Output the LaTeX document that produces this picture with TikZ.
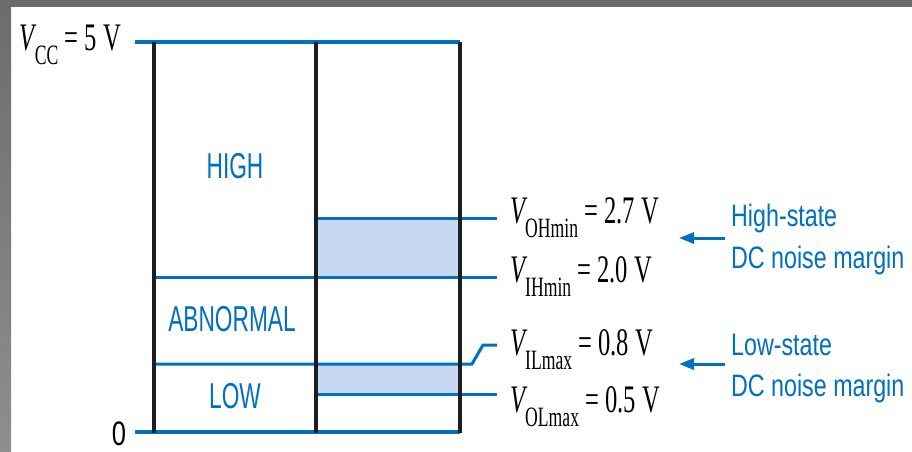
\documentclass[tikz,border=0pt]{standalone}
\usepackage{fontspec}
\setmainfont{Liberation Serif}
\newfontfamily\lsans[FakeStretch=0.63]{Liberation Sans}
\newfontfamily\rsans[FakeStretch=0.75]{Liberation Sans}
\newfontfamily\tser[FakeStretch=0.63]{Liberation Serif}
\usetikzlibrary{arrows.meta}
\definecolor{lblue}{RGB}{0,112,192}
\definecolor{shadeblue}{RGB}{198,217,240}
\definecolor{frametop}{RGB}{108,108,108}
\definecolor{framebot}{RGB}{142,142,142}
\definecolor{vline}{RGB}{30,30,30}
\newcommand{\volt}[2]{{\tser\fontsize{39pt}{42pt}\selectfont\itshape V}\raisebox{-14pt}{\tser\fontsize{28pt}{30pt}\selectfont #1}{\tser\fontsize{39pt}{42pt}\selectfont\ = #2\ V}}
\tikzset{
  level/.style={draw=lblue, line width=3pt},
  mainlevel/.style={draw=lblue, line width=4pt},
  divider/.style={draw=vline, line width=3.2pt},
  lbl/.style={inner sep=0pt, text=black},
  region/.style={inner sep=0pt, text=lblue, font=\lsans\fontsize{36pt}{40pt}\selectfont},
  note/.style={inner sep=0pt, text=lblue, anchor=base west, font=\rsans\fontsize{31pt}{36pt}\selectfont},
  marginarrow/.style={draw=lblue, line width=3pt, -{Triangle[length=15pt,width=11pt]}}
}
\begin{document}
\begin{tikzpicture}[x=1pt, y={(0pt,-1pt)}]
\useasboundingbox (0,0) rectangle (912,451);
\fill[white] (0,0) rectangle (912,451);
% slide frame
\shade[top color=frametop, bottom color=framebot] (0,0) rectangle (11,451);
\fill[frametop] (0,0) rectangle (912,7);

% shaded noise margins
\fill[shadeblue] (316,218) rectangle (460,277);
\fill[shadeblue] (316,364) rectangle (460,394);

% levels
\draw[mainlevel] (135,42) -- (460,42);
\draw[mainlevel] (135,432) -- (460,432);
\draw[level] (316,218) -- (497,218);
\draw[level] (154,277) -- (497,277);
\draw[level] (154,364) -- (472,364) -- (483,345) -- (497,345);
\draw[level] (316,394) -- (497,394);

% dividers
\draw[divider] (154,42) -- (154,433);
\draw[divider] (316,42) -- (316,433);
\draw[divider] (460,42) -- (460,433);

% labels
\node[lbl, anchor=base east] (vcc) at (121,50) {\volt{CC}{5}};
\node[lbl, anchor=base, font=\rsans\fontsize{34pt}{38pt}\selectfont] (zero) at (119,445) {0};
\node[lbl, anchor=base west] (voh) at (510,223) {\volt{OHmin}{2.7}};
\node[lbl, anchor=base west] (vih) at (510,282) {\volt{IHmin}{2.0}};
\node[lbl, anchor=base west] (vil) at (510,355) {\volt{ILmax}{0.8}};
\node[lbl, anchor=base west] (vol) at (510,412) {\volt{OLmax}{0.5}};

\node[region, anchor=base] (high) at (235,178) {HIGH};
\node[region, anchor=base] (abn) at (232,331) {ABNORMAL};
\node[region, anchor=base] (low) at (235,408) {LOW};

\node[note] (hs1) at (731,226) {High-state};
\node[note] (hs2) at (731,268) {DC noise margin};
\node[note] (ls1) at (731,355) {Low-state};
\node[note] (ls2) at (731,396) {DC noise margin};

\coordinate (ha0) at (725,238);
\coordinate (ha1) at (679,238);
\coordinate (la0) at (725,364);
\coordinate (la1) at (679,364);
\draw[marginarrow] (ha0) -- (ha1);
\draw[marginarrow] (la0) -- (la1);
\end{tikzpicture}
\end{document}
